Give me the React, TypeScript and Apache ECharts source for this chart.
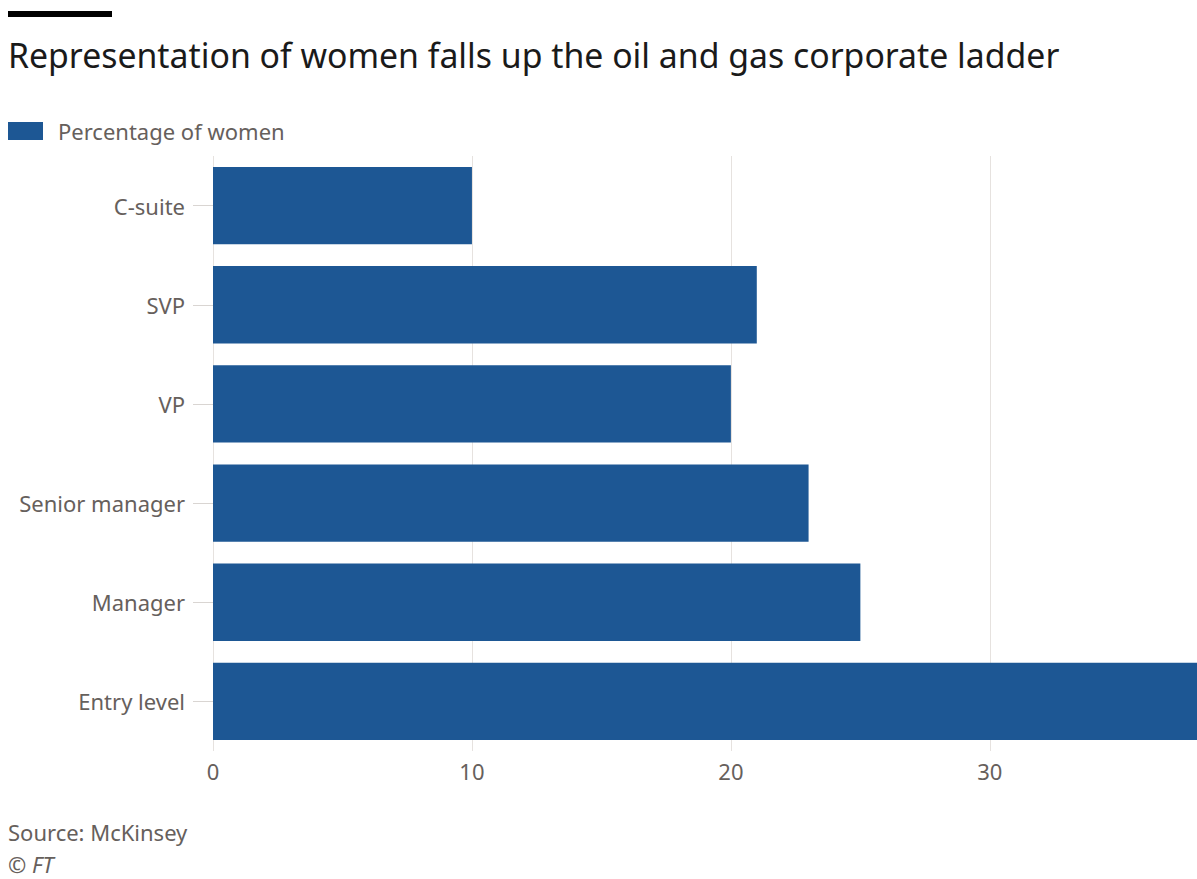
import React, { useEffect, useRef } from "react";
import * as echarts from "echarts";

const categories = ["C-suite", "SVP", "VP", "Senior manager", "Manager", "Entry level"];
const percentages = [10, 21, 20, 23, 25, 38];
const seriesName = "Percentage of women";
const titleText = "Representation of women falls up the oil and gas corporate ladder";
const sourceText = "Source: McKinsey";
const creditText = "© FT";

const FONT = "'Noto Sans', 'Open Sans', sans-serif";
const BAR = "#1d5794";
const GREY_TEXT = "#66605c";

export default function App() {
  const ref = useRef<HTMLDivElement>(null);

  useEffect(() => {
    if (!ref.current) return;
    const chart = echarts.init(ref.current, undefined, { renderer: "svg" });
    chart.setOption({
      animation: false,
      backgroundColor: "#ffffff",
      textStyle: { fontFamily: FONT },
      graphic: [
        { type: "rect", left: 8, top: 11, shape: { width: 104, height: 6 }, style: { fill: "#000000" } },
        {
          type: "text",
          left: 8,
          top: 38,
          style: { text: titleText, fontFamily: FONT, fontSize: 33.8, fill: "#1a1a1a" },
        },
        {
          type: "text",
          left: 8,
          top: 821,
          style: { text: sourceText, fontFamily: FONT, fontSize: 22, fill: GREY_TEXT },
        },
        {
          type: "text",
          left: 8,
          top: 853,
          style: { text: creditText, fontFamily: FONT, fontSize: 22, fontStyle: "italic", fill: GREY_TEXT },
        },
      ],
      legend: {
        left: 8,
        top: 120,
        padding: 0,
        itemWidth: 35,
        itemHeight: 18,
        itemGap: 10,
        icon: "rect",
        textStyle: { fontFamily: FONT, fontSize: 22, color: GREY_TEXT, padding: [0, 0, 0, 10] },
        data: [seriesName],
      },
      grid: { left: 213, right: 0, top: 156, bottom: 128, containLabel: false },
      xAxis: {
        type: "value",
        min: 0,
        max: 38,
        interval: 10,
        axisLine: { show: false },
        axisTick: { show: false },
        axisLabel: { fontFamily: FONT, fontSize: 22, color: GREY_TEXT, margin: 9, showMaxLabel: false },
        splitLine: { show: true, showMaxLine: false, lineStyle: { color: "#e6e2df", width: 1 } },
      },
      yAxis: {
        type: "category",
        data: categories,
        inverse: true,
        axisLine: { show: false },
        axisTick: { show: true, alignWithLabel: true, length: 20, lineStyle: { color: "#d9d5d2" } },
        axisLabel: { fontFamily: FONT, fontSize: 22, color: GREY_TEXT, margin: 28 },
      },
      series: [
        {
          name: seriesName,
          type: "bar",
          data: percentages,
          barCategoryGap: "22%",
          itemStyle: { color: BAR },
        },
      ],
    });
    return () => chart.dispose();
  }, []);

  return (
    <div
      ref={ref}
      style={{ position: "fixed", left: 0, top: 0, width: 1197, height: 879 }}
    />
  );
}
